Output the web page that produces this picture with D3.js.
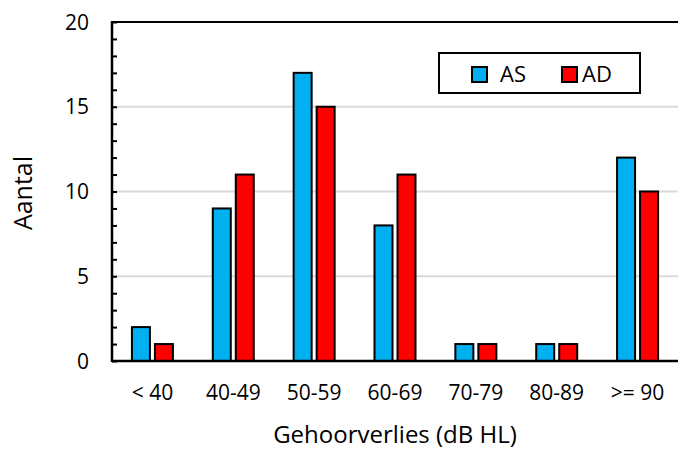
<!DOCTYPE html>
<html>
<head>
<meta charset="utf-8">
<script src="https://cdn.jsdelivr.net/npm/d3@7"></script>
<style>
  html, body { margin: 0; padding: 0; background: #fff; }
  svg { display: block; font-family: "Open Sans", "Noto Sans", sans-serif; }
</style>
</head>
<body>
<svg id="chart" width="679" height="450"></svg>
<script>
// Hearing loss categories (dB HL) and counts per ear
const categories = ["< 40", "40-49", "50-59", "60-69", "70-79", "80-89", ">= 90"];
const seriesNames = ["AS", "AD"];
const valuesAS = [2, 9, 17, 8, 1, 1, 12];
const valuesAD = [1, 11, 15, 11, 1, 1, 10];
const yTicks = [0, 5, 10, 15, 20];
const colors = { AS: "#00b0f0", AD: "#ff0000" };

const svg = d3.select("#chart");
const plotL = 112, plotR = 678, plotT = 22, plotB = 361;

const x = d3.scaleBand().domain(categories).range([plotL, plotR]).padding(0);
const y = d3.scaleLinear().domain([0, 20]).range([plotB, plotT]);

// grid lines
svg.append("g")
  .selectAll("line")
  .data(yTicks.filter(d => d > 0 && d < 20))
  .join("line")
  .attr("x1", plotL).attr("x2", plotR)
  .attr("y1", d => y(d)).attr("y2", d => y(d))
  .attr("stroke", "#d9d9d9").attr("stroke-width", 2);

// bars
const barW = 18, gap = 2.5;
const series = [
  { name: "AS", values: valuesAS, offset: -gap - barW },
  { name: "AD", values: valuesAD, offset: gap }
];
series.forEach(s => {
  svg.append("g")
    .selectAll("rect")
    .data(categories.map((c, i) => ({ c, v: s.values[i] })))
    .join("rect")
    .attr("x", d => x(d.c) + x.bandwidth() / 2 + s.offset)
    .attr("y", d => y(d.v))
    .attr("width", barW)
    .attr("height", d => y(0) - y(d.v))
    .attr("fill", colors[s.name])
    .attr("stroke", "#000")
    .attr("stroke-width", 2);
});

// y axis with inward minor ticks
const yAxis = d3.axisLeft(y).tickValues(d3.range(0, 21, 1)).tickSize(-5).tickFormat("");
const gy = svg.append("g").attr("transform", `translate(${plotL},0)`).call(yAxis);
gy.select(".domain").remove();
gy.selectAll(".tick line").attr("stroke", "#000").attr("stroke-width", 2);
svg.append("line").attr("x1", plotL).attr("x2", plotL).attr("y1", plotT - 1).attr("y2", plotB + 1)
  .attr("stroke", "#000").attr("stroke-width", 2.5);

// y tick labels
svg.append("g")
  .selectAll("text")
  .data(yTicks)
  .join("text")
  .attr("x", 89)
  .attr("y", d => y(d))
  .attr("dy", "0.36em")
  .attr("text-anchor", "end")
  .attr("font-size", 21)
  .attr("fill", "#000")
  .text(d => d);

// top border and baseline
svg.append("line").attr("x1", plotL).attr("x2", plotR).attr("y1", plotT).attr("y2", plotT)
  .attr("stroke", "#000").attr("stroke-width", 2);
svg.append("line").attr("x1", plotL).attr("x2", plotR).attr("y1", plotB).attr("y2", plotB)
  .attr("stroke", "#000").attr("stroke-width", 2.5);

// x tick labels
const xAxis = d3.axisBottom(x).tickSize(0).tickPadding(0);
const gx = svg.append("g").attr("transform", `translate(0,${plotB})`).call(xAxis);
gx.select(".domain").remove();
gx.selectAll("text")
  .attr("y", 39)
  .attr("dy", 0)
  .attr("font-size", 21)
  .attr("font-family", "\"Open Sans\", sans-serif")
  .attr("fill", "#000");

// axis titles
svg.append("text")
  .attr("transform", "translate(32,193) rotate(-90)")
  .attr("text-anchor", "middle")
  .attr("font-size", 25)
  .attr("fill", "#000")
  .text("Aantal");

svg.append("text")
  .attr("x", (plotL + plotR) / 2)
  .attr("y", 443)
  .attr("text-anchor", "middle")
  .attr("font-size", 24)
  .attr("fill", "#000")
  .text("Gehoorverlies (dB HL)");

// legend
const lg = svg.append("g");
lg.append("rect").attr("x", 439).attr("y", 53).attr("width", 201).attr("height", 40)
  .attr("fill", "#fff").attr("stroke", "#000").attr("stroke-width", 2);
const legendItems = [
  { name: seriesNames[0], sx: 472, tx: 500 },
  { name: seriesNames[1], sx: 562, tx: 582 }
];
legendItems.forEach(it => {
  lg.append("rect").attr("x", it.sx).attr("y", 67).attr("width", 15).attr("height", 15)
    .attr("fill", colors[it.name]).attr("stroke", "#000").attr("stroke-width", 2);
  lg.append("text").attr("x", it.tx).attr("y", 74.5).attr("dy", "0.36em")
    .attr("font-size", 22).attr("fill", "#000").text(it.name);
});
</script>
</body>
</html>
